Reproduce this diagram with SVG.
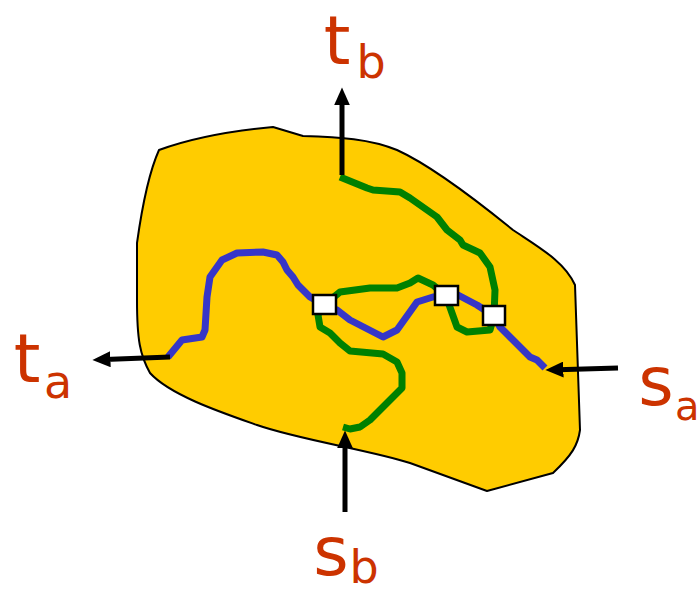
<svg xmlns="http://www.w3.org/2000/svg" width="700" height="596" viewBox="0 0 700 596">
<defs>
<style>
.blob{fill:#FFCC00;stroke:#000;stroke-width:2;stroke-linejoin:round}
.blue{fill:none;stroke:#3636C8;stroke-width:7;stroke-linejoin:round;stroke-linecap:butt}
.green{fill:none;stroke:#008000;stroke-width:7;stroke-linejoin:round;stroke-linecap:butt}
.box{fill:#fff;stroke:#000;stroke-width:2.5}
.arr{fill:none;stroke:#000;stroke-width:5;marker-end:url(#ah)}
.lab{fill:#CC3300;font-family:"DejaVu Sans","Liberation Sans",sans-serif}
.big{font-size:68px}
.sub{font-size:46px}
</style>
<marker id="ah" viewBox="0 0 10 10" refX="3" refY="5" markerUnits="userSpaceOnUse" markerWidth="18" markerHeight="16" orient="auto" preserveAspectRatio="none">
<path d="M0,0 L10,5 L0,10 Z" fill="#000"/>
</marker>
</defs>
<g id="region">
<path class="blob" d="M159,150 C200,135 240,130 273,127 L303,136 C340,137 370,139 397,150 C430,165 470,195 513,230 C540,248 565,262 575,285 L580,430 C578,445 572,455 553,473 L487,491 L410,463 C370,450 300,440 257,425 C220,412 170,395 150,373 C140,355 137,340 137,300 L137,243 C143,200 150,170 159,150 Z"/>
</g>
<g id="connectors">
<path id="path-a" class="blue" d="M168,357 L182,340 L202,337 L205,330 L207,297 L210,277 L222,260 L237,253 L263,252 L277,255 L283,262 L287,270 L293,277 L298,285 L310,297 L324,305 L337,310 L350,320 L383,337 L397,330 L417,302 L433,297 L446,296 L458,295 L477,305 L494,316 L500,327 L530,357 L537,360 L545,368"/>
<path id="path-b" class="green" d="M340,177 L367,188 L373,190 L400,192 L410,198 L437,217 L447,230 L460,240 L463,245 L480,253 L490,267 L495,290 L494,316 L490,330 L467,332 L457,327 L452,313 L446,296 L433,285 L418,278 L410,283 L397,288 L370,288 L340,292 L324,305 L318,315 L320,327 L330,333 L340,343 L350,351 L383,354 L397,362 L402,373 L402,388 L393,397 L370,420 L360,427 L350,429 L343,427"/>
<line class="arr" x1="342" y1="175" x2="342" y2="100"/>
<line class="arr" x1="170" y1="357" x2="105" y2="359.5"/>
<line class="arr" x1="618" y1="368" x2="558" y2="369.7"/>
<line class="arr" x1="345" y1="512" x2="345" y2="443"/>
</g>
<g id="box1"><rect class="box" x="313" y="295" width="23" height="19"/></g>
<g id="box2"><rect class="box" x="435" y="286" width="23" height="19"/></g>
<g id="box3"><rect class="box" x="483" y="306" width="22" height="19"/></g>
<g id="label-tb" class="lab"><text class="big" x="337" y="64" text-anchor="middle">t</text><text class="sub" x="371" y="78" text-anchor="middle">b</text></g>
<g id="label-ta" class="lab"><text class="big" x="27" y="382" text-anchor="middle">t</text><text class="sub" x="58" y="398" text-anchor="middle">a</text></g>
<g id="label-sa" class="lab"><text class="big" x="656" y="405" text-anchor="middle">s</text><text x="675" y="420" style="font-size:40px">a</text></g>
<g id="label-sb" class="lab"><text class="big" x="331" y="575" text-anchor="middle">s</text><text class="sub" x="364" y="583" text-anchor="middle">b</text></g>
</svg>
